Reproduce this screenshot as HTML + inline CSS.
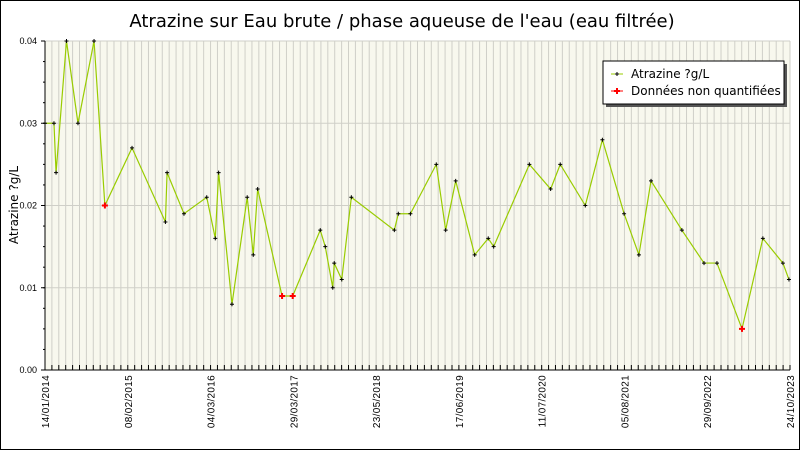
<!DOCTYPE html>
<html><head><meta charset="utf-8"><style>
html,body{margin:0;padding:0;background:#fff}
svg{display:block;font-family:"Liberation Sans","DejaVu Sans",sans-serif}
</style></head><body>
<svg id="chart" width="800" height="450" viewBox="0 0 800 450" xmlns="http://www.w3.org/2000/svg">
<rect x="0.5" y="0.5" width="799" height="449" fill="#fff" stroke="#000"/>
<text x="402" y="27" text-anchor="middle" font-size="18" font-family="DejaVu Sans, sans-serif" fill="#000">Atrazine sur Eau brute / phase aqueuse de l'eau (eau filtrée)</text>
<rect x="45" y="41" width="745" height="329" fill="#f8f8ee"/>
<g id="grid"></g>
<g id="axes"></g>
<g id="series"></g>
<text transform="translate(18,205) rotate(-90)" text-anchor="middle" font-size="12" font-family="DejaVu Sans, sans-serif">Atrazine ?g/L</text>
<g>
<rect x="606" y="64" width="181" height="43" fill="#555"/>
<rect x="603" y="61" width="181" height="43" fill="#fff" stroke="#000"/>
<line x1="611" y1="74" x2="623" y2="74" stroke="#99cc00"/>
<path d="M615 74h4M617 72v4" stroke="#000" stroke-width="1"/>
<text x="631" y="78" font-size="12" font-family="DejaVu Sans, sans-serif">Atrazine ?g/L</text>
<line x1="611" y1="91" x2="623" y2="91" stroke="#ff0000"/>
<path d="M614 91h6M617 88v6" stroke="#ff0000" stroke-width="2"/>
<text x="631" y="95" font-size="12" font-family="DejaVu Sans, sans-serif">Données non quantifiées</text>
</g>
</svg>
<script>
const days=[0,43,53,103,158,235,287,417,577,585,666,775,816,832,896,969,998,1019,1136,1187,1319,1343,1379,1386,1422,1468,1674,1693,1751,1875,1920,1968,2059,2124,2150,2321,2423,2469,2589,2671,2775,2846,2904,3052,3158,3220,3340,3440,3536,3565];
const values=[0.03,0.03,0.024,0.04,0.03,0.04,0.02,0.027,0.018,0.024,0.019,0.021,0.016,0.024,0.008,0.021,0.014,0.022,0.009,0.009,0.017,0.015,0.010,0.013,0.011,0.021,0.017,0.019,0.019,0.025,0.017,0.023,0.014,0.016,0.015,0.025,0.022,0.025,0.020,0.028,0.019,0.014,0.023,0.017,0.013,0.013,0.005,0.016,0.013,0.011];
const nonQuant=[6,18,19,46];
const xTickLabels=["14/01/2014","08/02/2015","04/03/2016","29/03/2017","23/05/2018","17/06/2019","11/07/2020","05/08/2021","29/09/2022","24/10/2023"];
const yTicks=[0,0.01,0.02,0.03,0.04];
const totalDays=3570, yMax=0.04;
const L=45,R=790,T=41,B=370;
const NS="http://www.w3.org/2000/svg";
const xs=d=>L+d/totalDays*(R-L);
const ys=v=>B-v/yMax*(B-T);
function mk(tag,attrs,parent){const e=document.createElementNS(NS,tag);for(const k in attrs)e.setAttribute(k,attrs[k]);parent.appendChild(e);return e;}
const grid=document.getElementById('grid'),axes=document.getElementById('axes'),series=document.getElementById('series');
const nMinor=(xTickLabels.length-1)*12;
for(let i=0;i<=nMinor;i++){const x=L+i*(R-L)/nMinor;
 const g=mk('line',{x1:x,y1:T,x2:x,y2:B,stroke:'#cfcfc8','stroke-width':1},grid);
 
 
 const t=mk('line',{x1:x,y1:B-5,x2:x,y2:B,stroke:'#000'},axes);
 
 }
yTicks.forEach(v=>{const y=ys(v);
 const g=mk('line',{x1:L,y1:y,x2:R,y2:y,stroke:'#cfcfc8'},grid);
 
 
 const tk=mk('line',{x1:L-4,y1:y,x2:L,y2:y,stroke:'#000'},axes);
 
 
 const t=mk('text',{x:L-8,y:y+3,'text-anchor':'end','font-size':9},axes);
 t.textContent=v.toFixed(2);
 
 });
for(let v=0;v<yMax;v+=0.0025){const y=ys(v);
 const tk=mk('line',{x1:L-2,y1:y,x2:L,y2:y,stroke:'#000'},axes);
 
 }
mk('line',{x1:L,y1:T,x2:L,y2:B,stroke:'#000'},axes);
mk('line',{x1:L,y1:B,x2:R,y2:B,stroke:'#000'},axes);
xTickLabels.forEach((s,i)=>{const x=L+i*(R-L)/(xTickLabels.length-1);
 const t=mk('text',{transform:`translate(${x+4},${B+5}) rotate(-90)`,'text-anchor':'end','font-size':10,'letter-spacing':0.3},axes);
 t.textContent=s;
 
 });
const pts=days.map((d,i)=>[xs(d),ys(values[i])]);
const line=mk('polyline',{points:pts.map(p=>p.join(',')).join(' '),fill:'none',stroke:'#99cc00','stroke-width':1.2},series);


pts.forEach((p,i)=>{const nq=nonQuant.includes(i);
 const m=mk('path',{d:nq?`M${p[0]-3} ${p[1]}h6M${p[0]} ${p[1]-3}v6`:`M${p[0]-2} ${p[1]}h4M${p[0]} ${p[1]-2}v4`,stroke:nq?'#ff0000':'#000','stroke-width':nq?2:1},series);
 
 });
</script>
</body></html>
